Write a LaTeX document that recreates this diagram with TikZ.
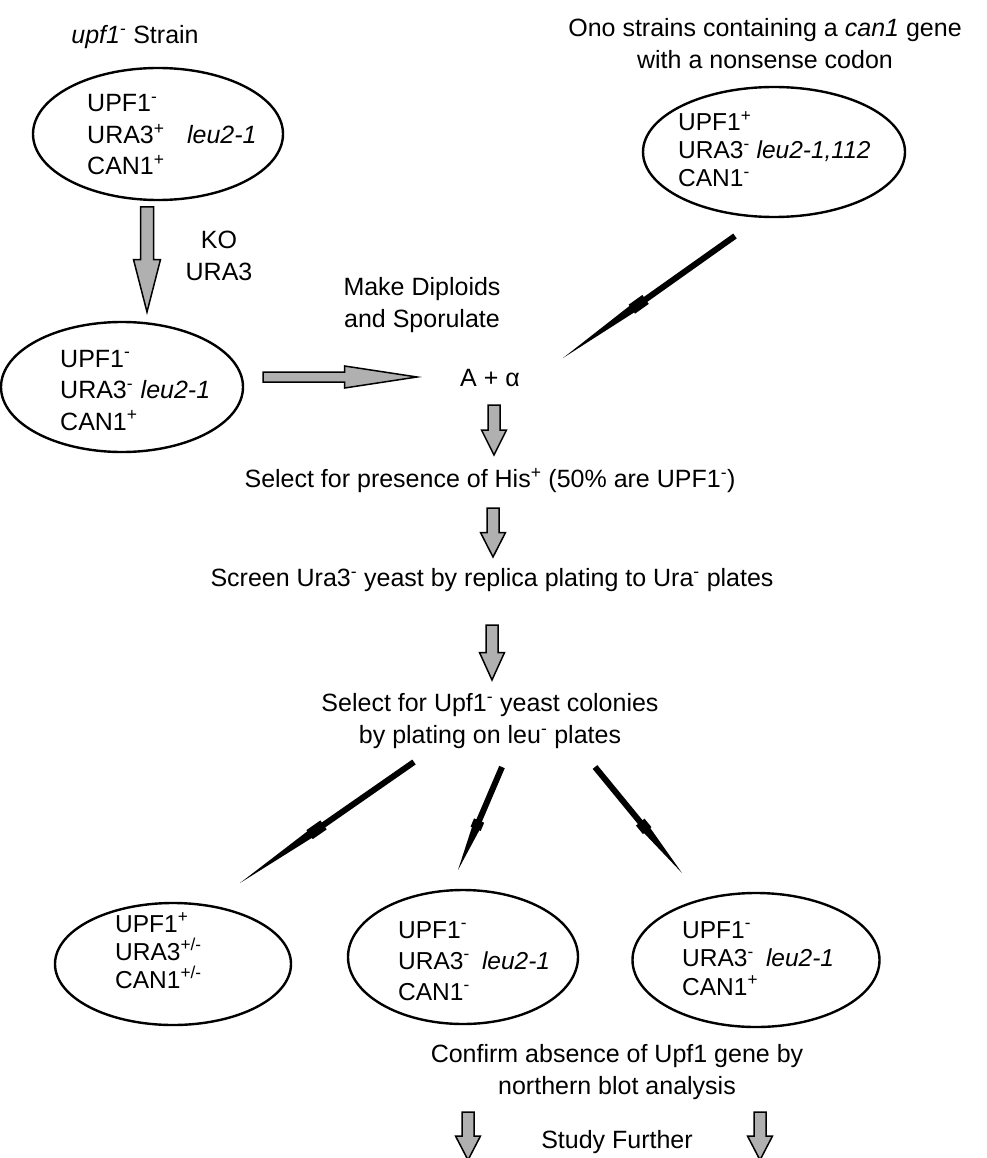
\documentclass[tikz,border=0pt]{standalone}
\usepackage{fontspec}
\setmainfont{Liberation Sans}
\usetikzlibrary{shapes.geometric,calc}
\newcommand\gplus{\textsuperscript{+}}
\newcommand\gminus{\textsuperscript{-}}
\newcommand\fatarrow[5]{% from, to, shaft half width, head half width, head start fraction
  \filldraw[fatstyle] ($(#1)!#3!90:(#2)$) -- ($(#1)!#5!(#2)!#3!90:(#2)$) -- ($(#1)!#5!(#2)!#4!90:(#2)$) -- (#2)
  -- ($(#1)!#5!(#2)!#4!-90:(#2)$) -- ($(#1)!#5!(#2)!#3!-90:(#2)$) -- ($(#1)!#3!-90:(#2)$) -- cycle;}
\newcommand\needle[2]{%
  \fill[black] ($(#1)!3pt!90:(#2)$) -- ($(#1)!0.52!(#2)!3pt!90:(#2)$) -- ($(#1)!0.52!(#2)!5.5pt!90:(#2)$)
  -- ($(#1)!0.6!(#2)!5.5pt!90:(#2)$) -- ($(#1)!0.6!(#2)!4pt!90:(#2)$) -- (#2)
  -- ($(#1)!0.6!(#2)!4pt!-90:(#2)$) -- ($(#1)!0.6!(#2)!5.5pt!-90:(#2)$) -- ($(#1)!0.52!(#2)!5.5pt!-90:(#2)$)
  -- ($(#1)!0.52!(#2)!3pt!-90:(#2)$) -- ($(#1)!3pt!-90:(#2)$) -- cycle;}
\begin{document}
\begin{tikzpicture}[x=1pt,y=-1pt,
  ell/.style={draw,ellipse,line width=2.4pt,inner sep=0pt},
  lbl/.style={inner sep=0pt,align=center,font=\fontsize{25}{32}\selectfont},
  gtxt/.style={inner sep=0pt,align=left,anchor=base west,font=\fontsize{25}{31.5}\selectfont},
  stxt/.style={inner sep=0pt,align=left,anchor=base west,font=\fontsize{24.5}{28}\selectfont},
  fatstyle/.style={fill=gray!62,draw=black,line width=1.5pt,line join=miter}]
\useasboundingbox (0,0) rectangle (986,1158);
% titles
\node[lbl] (t1) at (135,37) {\textit{upf1}\gminus{} Strain};
\node[lbl] (t2) at (765,44) {Ono strains containing a \textit{can1} gene\\with a nonsense codon};
% ellipses (anchor = baseline of last line)
\node[ell,minimum width=250,minimum height=132] (e1) at (158,134) {};
\node[gtxt] (x1) at (87,175) {UPF1\gminus\\URA3\gplus\hspace{0.9em}\textit{leu2-1}\\CAN1\gplus};
\node[ell,minimum width=242,minimum height=130] (e2) at (122,387) {};
\node[gtxt] (x2) at (60,430) {UPF1\gminus\\URA3\gminus\hspace{0.3em}\textit{leu2-1}\\CAN1\gplus};
\node[ell,minimum width=262,minimum height=130] (e3) at (774,152) {};
\node[stxt] (x3) at (678,187) {UPF1\gplus\\URA3\gminus{} \textit{leu2-1,112}\\CAN1\gminus};
% labels
\node[lbl] (ko) at (219,256) {KO\\URA3};
\node[lbl] (md) at (422,305) {Make Diploids\\and Sporulate};
\node[lbl] (aa) at (490,378) {A + α};
\node[lbl] (s1) at (490,481) {Select for presence of His\gplus{} (50\% are UPF1\gminus)};
\node[lbl] (s2) at (492,580) {Screen Ura3\gminus{} yeast by replica plating to Ura\gminus{} plates};
\node[lbl] (s3) at (490,721) {Select for Upf1\gminus{} yeast colonies\\by plating on leu\gminus{} plates};
% bottom ellipses
\node[ell,minimum width=236,minimum height=122] (e4) at (173,964) {};
\node[stxt] (x4) at (115,988) {UPF1\gplus\\URA3\textsuperscript{+/-}\\CAN1\textsuperscript{+/-}};
\node[ell,minimum width=230,minimum height=134] (e5) at (463,957) {};
\node[stxt,font=\fontsize{24.5}{31}\selectfont] (x5) at (398,1000) {UPF1\gminus\\URA3\gminus\hspace{0.5em}\textit{leu2-1}\\CAN1\gminus};
\node[ell,minimum width=247,minimum height=134] (e6) at (756,960) {};
\node[stxt,font=\fontsize{24.5}{28.5}\selectfont] (x6) at (682,995) {UPF1\gminus\\URA3\gminus\hspace{0.5em}\textit{leu2-1}\\CAN1\gplus};
\node[lbl] (cf) at (617,1072) {Confirm absence of Upf1 gene by\\northern blot analysis};
\node[lbl] (sf) at (617,1142) {Study Further};
% arrow end points
\coordinate (k1) at (147,207); \coordinate (k2) at (147,312);
\coordinate (h1) at (263,377); \coordinate (h2) at (417,377);
\coordinate (d1) at (494,405); \coordinate (d2) at (494,455);
\coordinate (d3) at (493,508); \coordinate (d4) at (493,557);
\coordinate (d5) at (492,625); \coordinate (d6) at (492,680);
\coordinate (f1) at (468,1112); \coordinate (f2) at (468,1160);
\coordinate (f3) at (760,1112); \coordinate (f4) at (760,1160);
\coordinate (n1) at (735,236); \coordinate (n2) at (563,358);
\coordinate (b1) at (414,762); \coordinate (b2) at (240,883);
\coordinate (b3) at (502,767); \coordinate (b4) at (458,870);
\coordinate (b5) at (595,767); \coordinate (b6) at (682,873);
% fat arrows
\fatarrow{k1}{k2}{6.5pt}{13.5pt}{0.5}
\fatarrow{h1}{h2}{5pt}{11pt}{0.53}
\fatarrow{d1}{d2}{6pt}{12.5pt}{0.5}
\fatarrow{d3}{d4}{6pt}{12.5pt}{0.5}
\fatarrow{d5}{d6}{6pt}{12.5pt}{0.5}
\fatarrow{f1}{f2}{6pt}{12.5pt}{0.5}
\fatarrow{f3}{f4}{6pt}{12.5pt}{0.5}
% needle arrows
\needle{n1}{n2}
\needle{b1}{b2}
\needle{b3}{b4}
\needle{b5}{b6}
\end{tikzpicture}
\end{document}
